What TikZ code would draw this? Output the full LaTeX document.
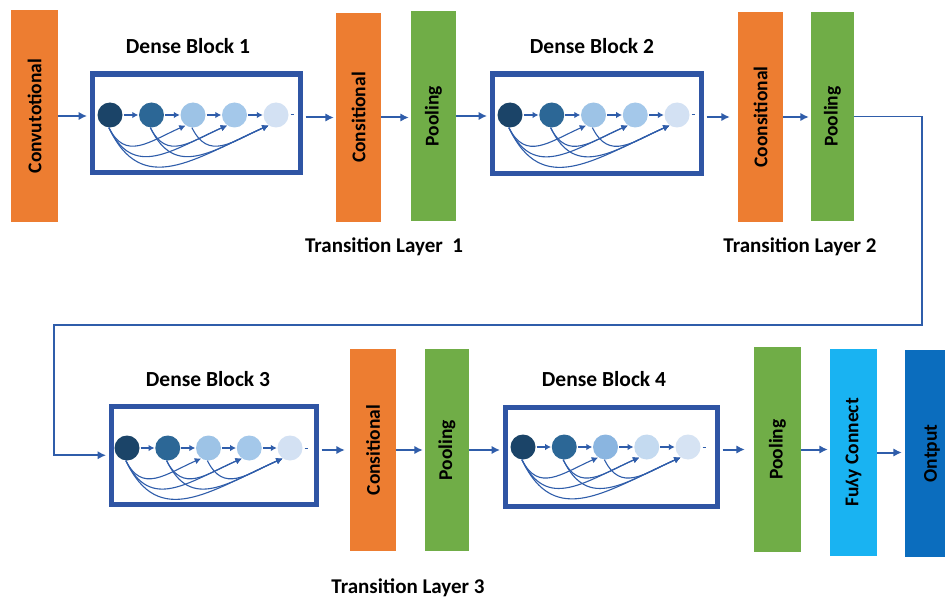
\documentclass[tikz,border=0pt]{standalone}
\usepackage{fontspec}
\setmainfont{Carlito}
\usetikzlibrary{arrows.meta,calc}

\definecolor{orangeL}{HTML}{ED7D31}
\definecolor{greenL}{HTML}{70AD47}
\definecolor{cyanL}{HTML}{19B3F2}
\definecolor{blueL}{HTML}{0B6DBE}
\definecolor{frameC}{HTML}{2F55A4}
\definecolor{wireC}{HTML}{2F5DAA}
% feature-map shades, standard blocks
\definecolor{stdA1}{HTML}{1B4468}
\definecolor{stdA2}{HTML}{2C6796}
\definecolor{stdA3}{HTML}{9DC3E6}
\definecolor{stdA4}{HTML}{A4C8EA}
\definecolor{stdA5}{HTML}{D3E1F3}
% feature-map shades, last block
\definecolor{stdB1}{HTML}{1B4468}
\definecolor{stdB2}{HTML}{2C6796}
\definecolor{stdB3}{HTML}{8AB5E0}
\definecolor{stdB4}{HTML}{C4DAF0}
\definecolor{stdB5}{HTML}{D6E3F3}

\newcommand\turnedy{\raisebox{1ex}{\rotatebox{180}{y}}}

\tikzset{
  barbox/.style={rectangle, draw=none, inner sep=0pt},
  bartext/.style={rotate=90, font=\bfseries\fontsize{19.5}{21}\selectfont, inner sep=0pt},
  titletext/.style={font=\bfseries\fontsize{21.5}{24}\selectfont, inner sep=0pt},
  captext/.style={font=\bfseries\fontsize{21}{24}\selectfont, inner sep=0pt},
  dbox/.style={rectangle, draw=frameC, line width=5.5pt, fill=white, inner sep=0pt},
  ball/.style={circle, minimum size=25pt, inner sep=0pt, draw=none},
  flow/.style={draw=wireC, line width=2pt, -{Latex[length=8.5pt,width=8.5pt]}},
  hop/.style={draw=wireC, line width=1.4pt, -{Latex[length=6pt,width=6.5pt]}, shorten <=1pt, shorten >=0.5pt},
  skip/.style={draw=wireC, line width=1.1pt, -{Latex[length=6.5pt,width=6.5pt]}},
}

% #1 name, #2 cx, #3 cy, #4 width, #5 height, #6 colour, #7 text
\newcommand\layerbar[7]{%
  \node[barbox, fill=#6, minimum width=#4, minimum height=#5] (#1) at (#2,#3) {};
  \node[bartext] (#1-text) at (#1.center) {#7};
}

% #1 name, #2 left, #3 top, #4 right, #5 bottom, #6 first x, #7 spacing, #8 y, #9 shade set
\newcommand\denseblock[9]{%
  \node[dbox, anchor=north west, minimum width={#4-#2}, minimum height={#5-#3}] (#1) at (#2,#3) {};
  \foreach \k in {1,...,5} {
    \node[ball, fill=#9\k] (#1c\k) at ({#6+(\k-1)*#7}, #8) {};
  }
  \foreach \k [evaluate=\k as \n using int(\k+1)] in {1,...,4} {
    \draw[hop] (#1c\k) -- (#1c\n);
  }
  \draw[wireC, line width=1pt] ([xshift=2pt]#1c5.east) -- ++(3,0);
  \foreach \a/\b in {1/3,1/4,1/5,2/4,2/5,3/5} {
    \pgfmathsetmacro\dist{(\b-\a)*#7}
    \pgfmathsetmacro\px{0.2*\dist}
    \pgfmathsetmacro\py{0.45*\dist-4}
    \pgfmathsetmacro\qx{0.45*\dist}
    \pgfmathsetmacro\qy{0.2*\dist}
    \draw[skip] (#1c\a.-95) .. controls +(\px,\py) and +(-\qx,\qy) .. (#1c\b.-125);
  }
}

\begin{document}
\begin{tikzpicture}[x=1pt,y=-1pt]
\useasboundingbox (0,0) rectangle (945,599);
\clip (0,0) rectangle (945,599);
\fill[white] (0,0) rectangle (945,599);

% ---- top row ----
\layerbar{conv}{34.5}{116}{47}{212}{orangeL}{Convutotional}
\denseblock{bA}{89.5}{71.5}{297.5}{169.5}{110}{41.5}{115}{stdA}
\node[titletext] (tA) at (188,46) {Dense Block 1};
\layerbar{consA}{358.5}{117.5}{45}{209}{orangeL}{Consitional}
\layerbar{poolA}{433.5}{116}{45}{210}{greenL}{Pooling}
\node[captext] (capA) at (384,247) {Transition Layer\ \ 1};

\denseblock{bB}{489.5}{71.5}{698.5}{170.5}{510}{41.75}{115}{stdA}
\node[titletext] (tB) at (592,46) {Dense Block 2};
\layerbar{consB}{760.5}{117}{45}{210}{orangeL}{Coonsitional}
\layerbar{poolB}{832.5}{116.5}{43}{209}{greenL}{Pooling}
\node[captext] (capB) at (800,247) {Transition Layer 2};

% ---- bottom row ----
\denseblock{bC}{108.5}{403.5}{313.5}{501.5}{127}{40.75}{448}{stdA}
\node[titletext] (tC) at (208,379) {Dense Block 3};
\layerbar{consC}{373}{450}{46}{202}{orangeL}{Consitional}
\layerbar{poolC}{447}{450}{44}{202}{greenL}{Pooling}
\node[captext] (capC) at (408,588) {Transition Layer 3};

\denseblock{bD}{502.5}{404.5}{714.5}{503.5}{523}{41.25}{447}{stdB}
\node[titletext] (tD) at (604,379) {Dense Block 4};
\layerbar{poolD}{777.5}{449.5}{47}{205}{greenL}{Pooling}
\layerbar{fc}{853.5}{452.5}{47}{207}{cyanL}{Fu\turnedy y Connect}
\layerbar{outp}{932}{453.5}{54}{207}{blueL}{Ontput}

% ---- connectors ----
\draw[flow, shorten >=2.5pt] (conv.east) -- (conv.east -| bA.west);
\draw[flow, shorten <=2.5pt, shorten >=2pt] (bA.east |- consA.west) -- (consA.west);
\draw[flow, shorten >=2pt] (consA.east) -- (poolA.west |- consA.east);
\draw[flow, shorten >=2.5pt] (poolA.east) -- (poolA.east -| bB.west);
\draw[flow, shorten <=2.5pt, shorten >=8pt] (bB.east |- consB.west) -- (consB.west);
\draw[flow, shorten >=2pt] (consB.east) -- (poolB.west |- consB.east);
\draw[flow, line width=1.6pt, shorten >=2.5pt] (poolB.east) -- ++(68,0) |- (54,325) |- (bC.west);

\draw[flow, shorten <=2.5pt, shorten >=5pt] (bC.east |- consC.west) -- (consC.west);
\draw[flow, shorten >=2pt] (consC.east) -- (poolC.west |- consC.east);
\draw[flow, shorten >=2.5pt] (poolC.east) -- (poolC.east -| bD.west);
\draw[flow, shorten <=2.5pt, shorten >=9pt] (bD.east |- poolD.west) -- (poolD.west);
\draw[flow, shorten >=2pt] (poolD.east) -- (fc.west |- poolD.east);
\draw[flow, shorten >=3pt] (fc.east) -- (outp.west |- fc.east);
\end{tikzpicture}
\end{document}
